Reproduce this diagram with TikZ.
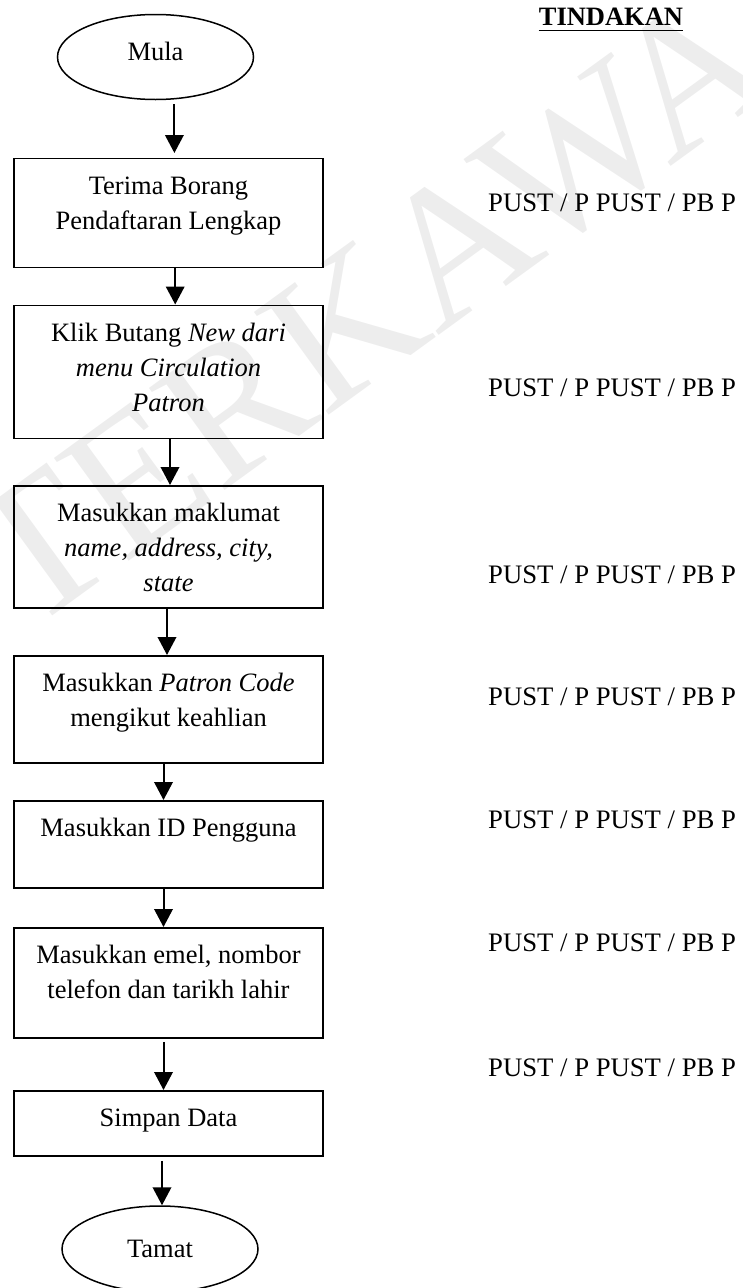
\documentclass[tikz,border=0pt]{standalone}
\usepackage{fontspec}
\setmainfont{Liberation Serif}
\usetikzlibrary{shapes.geometric,arrows.meta}
\newcommand{\boxtext}[2]{\parbox[c][#1][t]{309pt}{\fontsize{26.5pt}{35pt}\selectfont\centering\rule{0pt}{36pt}#2}}
\tikzset{
  stepbox/.style={draw, line width=1.9pt, inner sep=0pt, anchor=north},
  term/.style={ellipse, draw, line width=1.5pt, inner sep=0pt, minimum width=196pt, minimum height=85pt, font=\fontsize{26.5pt}{30pt}\selectfont},
  arr/.style={-{Triangle[width=18.5pt,length=18pt]}, line width=2pt},
  actor/.style={anchor=base west, inner sep=0pt, font=\fontsize{26.7pt}{30pt}\selectfont},
  wm/.style={inner sep=0pt, text=black!7, font=\fontsize{194pt}{194pt}\selectfont}
}
\begin{document}
\begin{tikzpicture}[x=1pt,y=-1pt]
\useasboundingbox (0,0) rectangle (743,1288);
\clip (0,0) rectangle (743,1288);
% watermark
\node[wm, rotate=36, anchor=east] (wmark) at (842,-35) {SALINAN TERKAWAL};
% header
\node[anchor=base, inner sep=0pt, font=\fontsize{26.5pt}{30pt}\selectfont\bfseries] (tind) at (611,25) {TINDAKAN};
\draw[line width=1.8pt] ([yshift=-5.5pt]tind.base west) -- ([yshift=-5.5pt]tind.base east);
% flow
\node[term, text height=18pt, text depth=11pt] (mula) at (155.5,57) {Mula};
\node[stepbox] (b1) at (168.5,157.5) {\boxtext{109pt}{Terima Borang\\Pendaftaran Lengkap}};
\node[stepbox] (b2) at (168.5,304.5) {\boxtext{133pt}{Klik Butang \textit{New dari}\\\textit{menu Circulation}\\\textit{Patron}}};
\node[stepbox] (b3) at (168.5,485) {\boxtext{122pt}{Masukkan maklumat\\\textit{name, address, city,}\\\textit{state}}};
\node[stepbox] (b4) at (168.5,655) {\boxtext{107pt}{Masukkan \textit{Patron Code}\\mengikut keahlian}};
\node[stepbox] (b5) at (168.5,800) {\boxtext{87pt}{Masukkan ID Pengguna}};
\node[stepbox] (b6) at (168.5,927) {\boxtext{110pt}{Masukkan emel, nombor\\telefon dan tarikh lahir}};
\node[stepbox] (b7) at (168.5,1090) {\boxtext{65pt}{Simpan Data}};
\node[term, minimum width=196pt, minimum height=86pt] (tamat) at (160,1249) {Tamat};
% connectors
\draw[arr, shorten <=4pt, shorten >=4.5pt] ([xshift=18.9pt]mula.south) -- ([xshift=5.9pt]b1.north);
\draw[arr] ([xshift=6.7pt]b1.south) -- ([xshift=6.7pt]b2.north);
\draw[arr] ([xshift=1.5pt]b2.south) -- ([xshift=1.5pt]b3.north);
\draw[arr] ([xshift=-1.5pt]b3.south) -- ([xshift=-1.5pt]b4.north);
\draw[arr] ([xshift=-5pt]b4.south) -- ([xshift=-5pt]b5.north);
\draw[arr] ([xshift=-5pt]b5.south) -- ([xshift=-5pt]b6.north);
\draw[arr, shorten <=3pt] ([xshift=-5pt]b6.south) -- ([xshift=-5pt]b7.north);
\draw[arr, shorten <=4pt] ([xshift=-6.5pt]b7.south) -- ([xshift=2pt]tamat.north);
% actors
\node[actor] (p1) at (488,211) {PUST / P PUST / PB P};
\node[actor] (p2) at (488,396.7) {PUST / P PUST / PB P};
\node[actor] (p3) at (488,583.3) {PUST / P PUST / PB P};
\node[actor] (p4) at (488,705) {PUST / P PUST / PB P};
\node[actor] (p5) at (488,828.3) {PUST / P PUST / PB P};
\node[actor] (p6) at (488,951.7) {PUST / P PUST / PB P};
\node[actor] (p7) at (488,1076.7) {PUST / P PUST / PB P};
\end{tikzpicture}
\end{document}
